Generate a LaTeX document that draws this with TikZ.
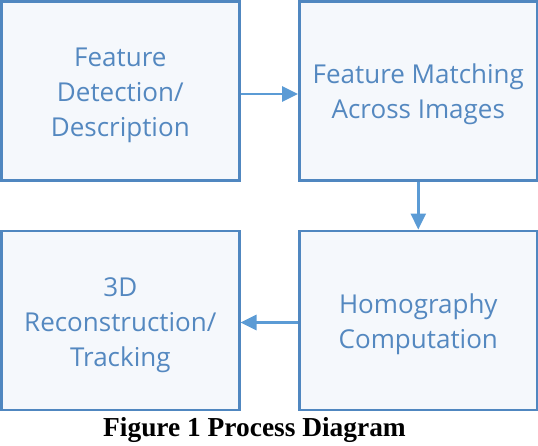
\documentclass[tikz,border=0pt]{standalone}
\usepackage{fontspec}
\setmainfont{Open Sans}
\newfontfamily\capfont{Liberation Serif}
\usepackage{tikz}
\definecolor{myframe}{RGB}{80,135,192}
\definecolor{mytext}{RGB}{84,136,192}
\definecolor{myarrow}{RGB}{91,155,213}
\definecolor{myfill}{RGB}{245,248,252}
\usetikzlibrary{positioning,arrows.meta}
\newcommand{\linestrut}{\rule[-7pt]{0pt}{35pt}}

\begin{document}
\begin{tikzpicture}[x=1pt,y=-1pt,
    every node/.style={align=center},
    stagebox/.style={draw=myframe,fill=myfill,line width=2.9pt,
        minimum width=237.5pt,minimum height=179pt,inner sep=0pt,
        text=mytext,font=\fontsize{26}{35}\selectfont},
    flow/.style={draw=myarrow,line width=2.7pt,
        -{Triangle[length=16pt,width=15pt]}},
    node distance=47.6pt and 57.6pt
    ]
    \useasboundingbox (0,0) rectangle (538,446);

    \node (detect) [stagebox] at (120.3,91) {\linestrut Feature\\Detection/\\Description\linestrut};
    \node (match) [stagebox,right=of detect] {\linestrut Feature Matching\\Across Images\linestrut};
    \node (homog) [stagebox,below=of match] {\linestrut Homography\\Computation\linestrut};
    \node (recon) [stagebox,below=of detect] {\linestrut 3D\\Reconstruction/\\Tracking\linestrut};

    \node (caption) [anchor=base,inner sep=0pt,
        font=\capfont\bfseries\fontsize{27.4}{30}\selectfont] at (254.5,436)
        {Figure 1 Process Diagram};

    % the arrows
    \draw [flow] ([yshift=-3pt]detect.east) -- ([yshift=-3pt]match.west);
    \draw [flow] (match.south) -- (homog.north);
    \draw [flow] ([yshift=-2pt]homog.west) -- ([yshift=-2pt]recon.east);
\end{tikzpicture}
\end{document}
